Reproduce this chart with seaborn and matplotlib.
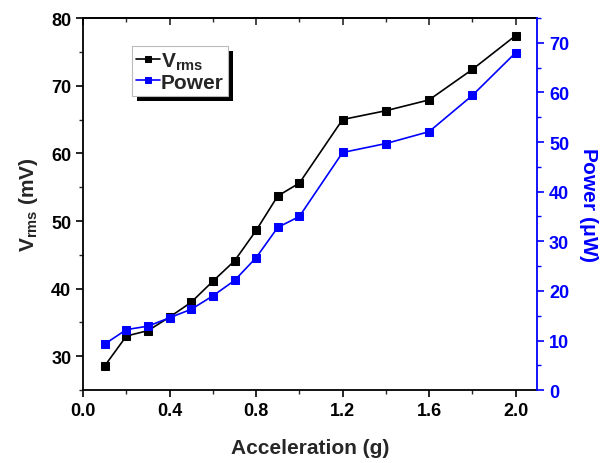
import numpy as np
import pandas as pd
import matplotlib
matplotlib.use("Agg")
import matplotlib.pyplot as plt
import seaborn as sns
from matplotlib.patches import Rectangle
from matplotlib.ticker import MultipleLocator
from matplotlib.transforms import IdentityTransform

accel = [0.1, 0.2, 0.3, 0.4, 0.5, 0.6, 0.7, 0.8, 0.9, 1.0, 1.2, 1.4, 1.6, 1.8, 2.0]
vrms = [28.6, 33.0, 33.8, 35.8, 38.0, 41.1, 44.1, 48.6, 53.7, 55.6, 65.0, 66.3, 67.9, 72.4, 77.4]
power = [9.3, 12.2, 12.9, 14.6, 16.3, 19.0, 22.1, 26.7, 32.8, 35.0, 47.9, 49.7, 52.1, 59.4, 68.0]

df = pd.DataFrame({"accel": accel, "vrms": vrms, "power": power})

sns.set_style("ticks")
plt.rcParams["font.family"] = ["Liberation Sans", "DejaVu Sans"]
plt.rcParams["font.weight"] = "bold"
plt.rcParams["mathtext.fontset"] = "custom"
plt.rcParams["mathtext.bf"] = "Liberation Sans:bold"
plt.rcParams["mathtext.rm"] = "Liberation Sans:bold"

BLUE = "#0000ff"
fig = plt.figure(figsize=(6.07, 4.64), dpi=100)
ax = fig.add_axes([0.137, 0.157, 0.748, 0.802])
ax2 = ax.twinx()

sns.lineplot(data=df, x="accel", y="vrms", ax=ax, color="black", marker="s",
             markersize=5.5, markeredgecolor="black", linewidth=1.2, label=r"V$_{\mathrm{rms}}$",
             legend=False)
sns.lineplot(data=df, x="accel", y="power", ax=ax2, color=BLUE, marker="s",
             markersize=5.5, markeredgecolor=BLUE, linewidth=1.2, label="Power",
             legend=False)

ax.set_xlim(0, 2.1)
ax.set_ylim(25, 80)
ax2.set_ylim(0, 75)

ax.xaxis.set_major_locator(MultipleLocator(0.4))
ax.xaxis.set_minor_locator(MultipleLocator(0.2))
ax.yaxis.set_major_locator(MultipleLocator(10))
ax.yaxis.set_minor_locator(MultipleLocator(5))
ax2.yaxis.set_major_locator(MultipleLocator(10))
ax2.yaxis.set_minor_locator(MultipleLocator(5))

ax.set_xticks([0.0, 0.4, 0.8, 1.2, 1.6, 2.0])
ax.set_xticklabels(["0.0", "0.4", "0.8", "1.2", "1.6", "2.0"])

for s in ["left", "bottom", "top"]:
    ax.spines[s].set_visible(True)
    ax.spines[s].set_color("black")
    ax.spines[s].set_linewidth(1.3)
ax.spines["right"].set_visible(False)
for s in ["left", "bottom", "top"]:
    ax2.spines[s].set_visible(False)
ax2.spines["right"].set_visible(True)
ax2.spines["right"].set_color(BLUE)
ax2.spines["right"].set_linewidth(1.3)

ax.tick_params(axis="both", which="major", direction="out", length=5, width=1.2,
               labelsize=13, colors="black")
ax.tick_params(axis="both", which="minor", direction="out", length=3, width=1.0)
ax.tick_params(axis="x", top=False)
ax.tick_params(axis="y", right=False)
ax2.tick_params(axis="y", which="major", direction="out", length=5, width=1.2,
                labelsize=13, colors=BLUE)
ax2.tick_params(axis="y", which="minor", direction="out", length=3, width=1.0, colors=BLUE)
for lab in ax.get_xticklabels() + ax.get_yticklabels() + ax2.get_yticklabels():
    lab.set_fontweight("bold")

# top axis ticks pointing inward
sec = ax.secondary_xaxis("top")
sec.xaxis.set_major_locator(MultipleLocator(0.4))
sec.xaxis.set_minor_locator(MultipleLocator(0.2))
sec.tick_params(axis="x", which="major", direction="in", length=5, width=1.2, labelsize=0,
                labeltop=False)
sec.tick_params(axis="x", which="minor", direction="in", length=3, width=1.0)
sec.spines["top"].set_linewidth(1.3)

ax.set_xlabel("Acceleration (g)", fontsize=15, fontweight="bold", labelpad=14)
ax.set_ylabel(r"V$_{\mathrm{rms}}$ (mV)", fontsize=15, fontweight="bold", labelpad=8)
ax2.set_ylabel(r"Power ($\mathrm{\mu}$W)", fontsize=15, fontweight="bold", color=BLUE,
               rotation=270, labelpad=22)

h1, l1 = ax.get_legend_handles_labels()
h2, l2 = ax2.get_legend_handles_labels()
leg = ax2.legend(h1 + h2, l1 + l2, loc="upper left", bbox_to_anchor=(0.107, 0.925),
                 prop={"weight": "bold", "size": 15}, frameon=True, fancybox=False,
                 edgecolor="#bbbbbb", framealpha=1, handlelength=1.15, handletextpad=0.05,
                 borderpad=0.2, labelspacing=0.05, borderaxespad=0)
leg.get_frame().set_linewidth(0.8)
leg.set_zorder(10)
for h in leg.legend_handles:
    h.set_markersize(4.5)

ax2.set_zorder(ax.get_zorder() + 1)
ax2.patch.set_visible(False)

fig.canvas.draw()
bb = leg.get_window_extent()
off = 5
shadow = Rectangle((bb.x0 + off, bb.y0 - off), bb.width, bb.height,
                   transform=IdentityTransform(), facecolor="black", edgecolor="none",
                   zorder=9, clip_on=False)
ax2.add_artist(shadow)

fig.savefig("out.png", dpi=100)
